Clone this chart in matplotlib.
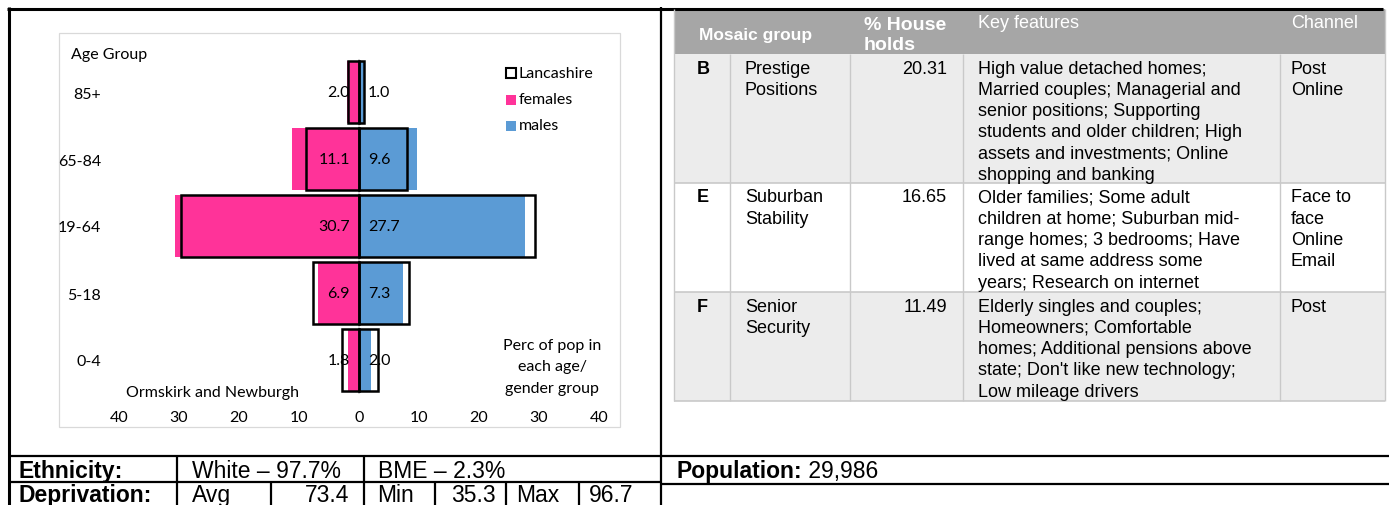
import matplotlib
matplotlib.use("Agg")
import matplotlib.pyplot as plt
from matplotlib.patches import Rectangle
from matplotlib.ticker import FuncFormatter

W, H = 1389, 506

# ---- Population pyramid (% of population in each age / gender group) ----
age_groups = ["0-4", "5-18", "19-64", "65-84", "85+"]
females = [1.8, 6.9, 30.7, 11.1, 2.0]
males = [2.0, 7.3, 27.7, 9.6, 1.0]
lancs_females = [2.8, 7.7, 29.6, 8.9, 1.8]
lancs_males = [3.1, 8.3, 29.3, 8.0, 0.9]
x_ticks = [-40, -30, -20, -10, 0, 10, 20, 30, 40]

# ---- Mosaic groups ----
mosaic_codes = ["B", "E", "F"]
mosaic_names = [["Prestige", "Positions"], ["Suburban", "Stability"], ["Senior", "Security"]]
mosaic_pct = [20.31, 16.65, 11.49]
mosaic_features = [
    ["High value detached homes;", "Married couples; Managerial and",
     "senior positions; Supporting", "students and older children; High",
     "assets and investments; Online", "shopping and banking"],
    ["Older families; Some adult", "children at home; Suburban mid-",
     "range homes; 3 bedrooms; Have", "lived at same address some",
     "years; Research on internet"],
    ["Elderly singles and couples;", "Homeowners; Comfortable",
     "homes; Additional pensions above", "state; Don't like new technology;",
     "Low mileage drivers"],
]
mosaic_channels = [["Post", "Online"], ["Face to", "face", "Online", "Email"], ["Post"]]

# ---- Summary figures ----
ethnic_groups = ["White", "BME"]
ethnic_pct = [97.7, 2.3]
population = 29986
dep_labels = ["Avg", "Min", "Max"]
dep_values = [73.4, 35.3, 96.7]

PINK = "#ff3399"
BLUE = "#5b9bd5"
CHART_FONT = "Lato"
TABLE_FONT = "Liberation Sans"

fig = plt.figure(figsize=(W / 100, H / 100), dpi=100)
fig.patch.set_facecolor("white")

# Full-page canvas in pixel units for frames, tables and free text
cv = fig.add_axes([0, 0, 1, 1], zorder=0)
cv.set_xlim(0, W)
cv.set_ylim(H, 0)
cv.axis("off")


def hline(y, x0, x1, color="black", lw=1.6):
    cv.plot([x0, x1], [y, y], color=color, lw=lw, solid_capstyle="butt")


def vline(x, y0, y1, color="black", lw=1.6):
    cv.plot([x, x], [y0, y1], color=color, lw=lw, solid_capstyle="butt")


# ---- Page frame ----
hline(9.5, 7, 1383, lw=2.2)
vline(8.5, 8, H, lw=2.2)
vline(661, 8, H, lw=1.6)

# ---- Pyramid chart ----
cv.add_patch(Rectangle((59, 34), 561, 394, fill=False, ec="#d9d9d9", lw=0.9))

ax = fig.add_axes([119 / W, (H - 394.5) / H, 480 / W, 335 / H], zorder=2)
ax.patch.set_alpha(0)
ypos = list(range(len(age_groups)))
bh = 0.92
ax.axvline(0, color="#d9d9d9", lw=1.3, zorder=0)
ax.barh(ypos, [-v for v in females], height=bh, color=PINK, zorder=1)
ax.barh(ypos, males, height=bh, color=BLUE, zorder=1)
ax.barh(ypos, [-v for v in lancs_females], height=bh, fill=False,
        edgecolor="black", lw=1.8, zorder=2)
ax.barh(ypos, lancs_males, height=bh, fill=False,
        edgecolor="black", lw=1.8, zorder=2)
for y, f, m in zip(ypos, females, males):
    ax.text(-1.5, y, f"{f:.1f}", ha="right", va="center", fontsize=11.5,
            family=CHART_FONT, color="black", zorder=3)
    ax.text(1.5, y, f"{m:.1f}", ha="left", va="center", fontsize=11.5,
            family=CHART_FONT, color="black", zorder=3)
ax.set_xlim(-40, 40)
ax.set_ylim(-0.5, len(age_groups) - 0.5)
ax.set_xticks(x_ticks)
ax.xaxis.set_major_formatter(FuncFormatter(lambda v, p: f"{abs(v):.0f}"))
ax.set_yticks(ypos)
ax.set_yticklabels(age_groups)
ax.tick_params(axis="both", length=0, labelsize=11.5)
ax.tick_params(axis="x", pad=12)
ax.tick_params(axis="y", pad=13)
for lab in ax.get_xticklabels() + ax.get_yticklabels():
    lab.set_family(CHART_FONT)
for s in ax.spines.values():
    s.set_visible(False)

cv.text(71, 55, "Age Group", ha="left", va="center", fontsize=11.5, family=CHART_FONT)
cv.text(212, 393, "Ormskirk and Newburgh", ha="center", va="center",
        fontsize=11.5, family=CHART_FONT)
for i, line in enumerate(["Perc of pop in", "each age/", "gender group"]):
    cv.text(552, 346 + 21.5 * i, line, ha="center", va="center",
            fontsize=11.5, family=CHART_FONT)

# legend keys
cv.add_patch(Rectangle((506, 69), 9.5, 10, fill=False, ec="black", lw=1.5))
cv.add_patch(Rectangle((506, 96), 9.5, 9.5, fc=PINK, ec="none"))
cv.add_patch(Rectangle((506, 122), 9.5, 9.5, fc=BLUE, ec="none"))
for yy, lab in zip([74, 100, 126], ["Lancashire", "females", "males"]):
    cv.text(519, yy, lab, ha="left", va="center", fontsize=11.5, family=CHART_FONT)

# ---- Mosaic table ----
TX0, TX1 = 674, 1385
cols = [674, 730, 850, 963, 1280, 1385]
row_tops = [55, 184, 293]
row_bots = [184, 293, 402]
row_bg = ["#ececec", "#ffffff", "#ececec"]
HDR = "#a6a6a6"
GRID = "#c9c9c9"
cv.add_patch(Rectangle((TX0, 10), TX1 - TX0, 45, fc=HDR, ec="none"))
for t, b, c in zip(row_tops, row_bots, row_bg):
    cv.add_patch(Rectangle((TX0, t), TX1 - TX0, b - t, fc=c, ec="none"))
for x in cols[1:-1]:
    vline(x, 55, 402, color=GRID, lw=1.0)
for y in row_tops[1:] + [402]:
    hline(y, TX0, TX1, color=GRID, lw=1.2)
vline(TX0, 10, 402, color=GRID, lw=1.0)
vline(TX1, 10, 402, color=GRID, lw=1.0)

TS = 13
cv.text(699, 40, "Mosaic group", ha="left", va="baseline", fontsize=12.5,
        weight="bold", color="white", family=TABLE_FONT)
cv.text(864, 30, "% House", ha="left", va="baseline", fontsize=14,
        weight="bold", color="white", family=TABLE_FONT)
cv.text(864, 50, "holds", ha="left", va="baseline", fontsize=14,
        weight="bold", color="white", family=TABLE_FONT)
cv.text(978, 28, "Key features", ha="left", va="baseline", fontsize=13,
        color="white", family=TABLE_FONT)
cv.text(1291, 28, "Channel", ha="left", va="baseline", fontsize=13,
        color="white", family=TABLE_FONT)

LS = 21.3
for i, top in enumerate(row_tops):
    base = top + 18.5
    cv.text(697, base, mosaic_codes[i], ha="left", va="baseline", fontsize=TS,
            weight="bold", family=TABLE_FONT)
    for k, line in enumerate(mosaic_names[i]):
        cv.text(745, base + LS * k, line, ha="left", va="baseline",
                fontsize=TS, family=TABLE_FONT)
    cv.text(947, base, f"{mosaic_pct[i]:.2f}", ha="right", va="baseline",
            fontsize=TS, family=TABLE_FONT)
    for k, line in enumerate(mosaic_features[i]):
        cv.text(978, base + LS * k, line, ha="left", va="baseline",
                fontsize=TS, family=TABLE_FONT)
    for k, line in enumerate(mosaic_channels[i]):
        cv.text(1291, base + LS * k, line, ha="left", va="baseline",
                fontsize=TS, family=TABLE_FONT)

# ---- Summary rows ----
hline(457, 8, W, lw=1.6)
hline(483, 8, 661, lw=1.6)
hline(485, 661, W, lw=1.6)
for x in [177, 364]:
    vline(x, 457, 483)
for x in [177, 271, 364, 435, 506, 579]:
    vline(x, 483, H)

BS = 16.5
cv.text(19, 478, "Ethnicity:", ha="left", va="baseline", fontsize=BS,
        weight="bold", family=TABLE_FONT)
cv.text(192, 478, f"{ethnic_groups[0]} \u2013 {ethnic_pct[0]:.1f}%", ha="left",
        va="baseline", fontsize=BS, family=TABLE_FONT)
cv.text(378, 478, f"{ethnic_groups[1]} \u2013 {ethnic_pct[1]:.1f}%", ha="left",
        va="baseline", fontsize=BS, family=TABLE_FONT)
pop_lab = cv.text(676, 478, "Population:", ha="left", va="baseline", fontsize=BS,
                  weight="bold", family=TABLE_FONT)
cv.annotate(f" {population:,}", xycoords=pop_lab, xy=(1, 0), va="bottom",
            ha="left", fontsize=BS, family=TABLE_FONT)

cv.text(19, 502, "Deprivation:", ha="left", va="baseline", fontsize=BS,
        weight="bold", family=TABLE_FONT)
dep_pos = [(192, "left", 349, "right"), (377, "left", 496, "right"),
           (516, "left", 589, "left")]
for (lx, lha, vx, vha), lab, val in zip(dep_pos, dep_labels, dep_values):
    cv.text(lx, 502, lab, ha=lha, va="baseline", fontsize=BS, family=TABLE_FONT)
    cv.text(vx, 502, f"{val:.1f}", ha=vha, va="baseline", fontsize=BS,
            family=TABLE_FONT)

fig.savefig("out.png", dpi=100)
